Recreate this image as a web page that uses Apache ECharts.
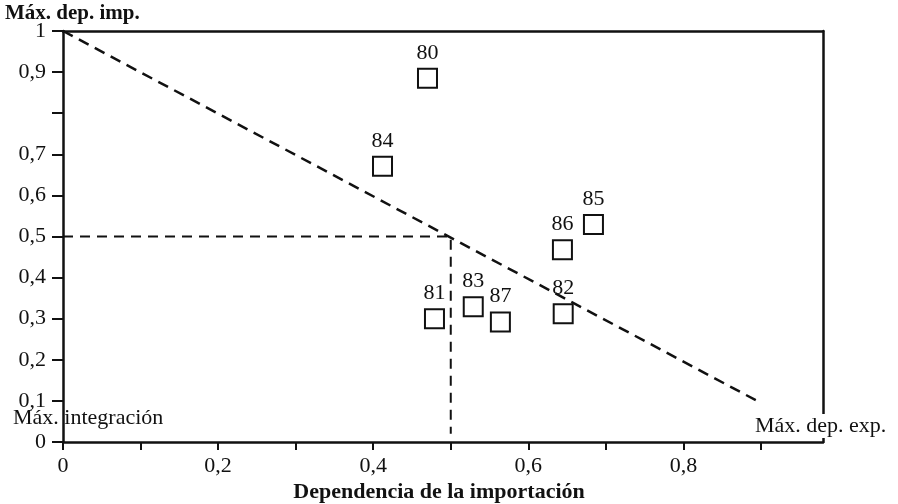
<!DOCTYPE html>
<html>
<head>
<meta charset="utf-8">
<script src="https://cdn.jsdelivr.net/npm/echarts@6/dist/echarts.min.js"></script>
<style>html,body{margin:0;padding:0;background:#fff}#c{width:898px;height:504px}</style>
</head>
<body>
<div id="c"></div>
<script>
// Data
var yearLabels = ['80', '84', '81', '83', '87', '82', '86', '85'];
var importDep = [0.470, 0.412, 0.479, 0.529, 0.564, 0.645, 0.644, 0.684];
var exportDep = [0.885, 0.671, 0.300, 0.329, 0.292, 0.312, 0.468, 0.529];
var diagonalX = [0, 0.9];
var diagonalY = [1, 0.095];
var cornerX = [0, 0.5, 0.5];
var cornerY = [0.5, 0.5, 0.02];
var xTicks = [0, 0.1, 0.2, 0.3, 0.4, 0.5, 0.6, 0.7, 0.8, 0.9];
var xTickLabels = [0, 0.2, 0.4, 0.6, 0.8];
var yTicks = [0, 0.1, 0.2, 0.3, 0.4, 0.5, 0.6, 0.7, 0.8, 0.9, 1];
var yTickLabels = [0, 0.1, 0.2, 0.3, 0.4, 0.5, 0.6, 0.7, 0.9, 1];

var FONT = 'Liberation Serif';
function fmt(v) { return String(Math.round(v * 10) / 10).replace('.', ','); }
function pairs(xs, ys) { return xs.map(function (x, i) { return [x, ys[i]]; }); }

var chart = echarts.init(document.getElementById('c'));
var axisLine = { show: true, onZero: false, lineStyle: { color: '#111', width: 2.5 } };
chart.setOption({
  animation: false,
  backgroundColor: '#fff',
  grid: { left: 63, right: 75, top: 31, bottom: 62 },
  xAxis: [{
    type: 'value', min: 0, max: 0.98, position: 'bottom',
    splitLine: { show: false },
    axisLine: axisLine,
    axisTick: { show: true, inside: false, length: 8, customValues: xTicks, lineStyle: { color: '#111', width: 2 } },
    axisLabel: { customValues: xTickLabels, formatter: fmt, margin: 13, fontFamily: FONT, fontSize: 22, color: '#111' }
  }, {
    type: 'value', min: 0, max: 0.98, position: 'top',
    splitLine: { show: false }, axisLine: axisLine,
    axisTick: { show: false }, axisLabel: { show: false }
  }],
  yAxis: [{
    type: 'value', min: 0, max: 1, position: 'left',
    splitLine: { show: false },
    axisLine: axisLine,
    axisTick: { show: true, length: 11, customValues: yTicks, lineStyle: { color: '#111', width: 2 } },
    axisLabel: { customValues: yTickLabels, formatter: fmt, margin: 17, fontFamily: FONT, fontSize: 22, color: '#111' }
  }, {
    type: 'value', min: 0, max: 1, position: 'right',
    splitLine: { show: false }, axisLine: axisLine,
    axisTick: { show: false }, axisLabel: { show: false }
  }],
  series: [{
    type: 'line', data: pairs(diagonalX, diagonalY), symbol: 'none', silent: true,
    lineStyle: { color: '#111', width: 2.5, type: [11, 7] }, z: 2
  }, {
    type: 'line', data: pairs(cornerX, cornerY), symbol: 'none', silent: true,
    lineStyle: { color: '#111', width: 2, type: [10, 7] }, z: 2
  }, {
    type: 'scatter', symbol: 'rect', symbolSize: 19, z: 5,
    data: importDep.map(function (x, i) { return { value: [x, exportDep[i]], name: yearLabels[i] }; }),
    itemStyle: { color: '#fff', borderColor: '#111', borderWidth: 2, opacity: 1 },
    label: { show: true, position: 'top', distance: 4, formatter: '{b}', fontFamily: FONT, fontSize: 22, color: '#111' }
  }],
  graphic: [
    { type: 'text', left: 5, top: 3, style: { text: 'Máx. dep. imp.', font: 'bold 21px "Liberation Serif"', fill: '#111' } },
    { type: 'text', left: 13, top: 407, z: 10, style: { text: 'Máx. integración', font: '22px "Liberation Serif"', fill: '#111' } },
    { type: 'text', left: 753, top: 414, z: 10, style: { text: 'Máx. dep. exp.', font: '22px "Liberation Serif"', fill: '#111', backgroundColor: '#fff', padding: [1, 2] } },
    { type: 'text', x: 439, y: 481, style: { text: 'Dependencia de la importación', font: 'bold 22px "Liberation Serif"', fill: '#111', align: 'center' } }
  ]
});
</script>
</body>
</html>
